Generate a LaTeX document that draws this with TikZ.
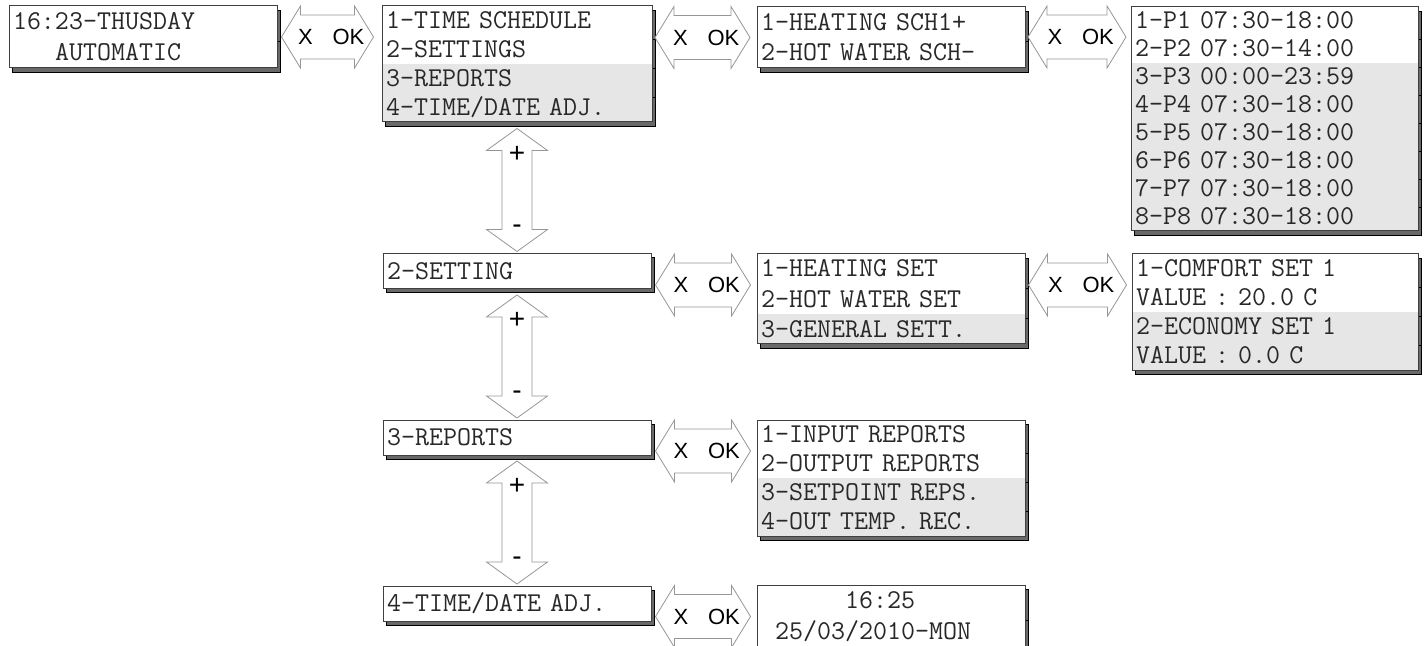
\documentclass[tikz,border=0pt]{standalone}
\usepackage{fontspec}
\newfontfamily\okfont{Liberation Sans}
\usetikzlibrary{shadows,calc}
\definecolor{lcdgray}{RGB}{230,230,230}
\definecolor{shadowgray}{RGB}{105,105,105}
\definecolor{okgray}{RGB}{150,150,150}
\definecolor{lcdtext}{RGB}{40,40,40}
\DeclareRobustCommand{\lcdfont}{\ttfamily\fontsize{13.6}{16}\selectfont
  \fontdimen2\font=0.525em\relax\fontdimen3\font=0pt\relax\fontdimen4\font=0pt\relax}

\tikzset{
  lcd/.style={anchor=north west, text width=#1, align=left, inner xsep=2pt, inner ysep=0pt,
    outer sep=0pt, text height=8pt, text depth=0pt, text=lcdtext, font=\lcdfont,
    drop shadow={shadow xshift=1.8pt, shadow yshift=-2pt, fill=shadowgray, draw=black, opacity=1}},
  lcd/.default=130pt,
  lcdframe/.style={draw=black!75, line width=0.5pt},
  okline/.style={draw=okgray, fill=white, line width=0.4pt},
  oklbl/.style={font=\okfont\fontsize{11}{13}\selectfont, inner sep=0pt},
  pmlbl/.style={font=\okfont\fontsize{14}{16}\selectfont, inner sep=0pt},
  pics/xok/.style={code={
    \draw[okline] (-#1,0) -- ({19-#1},-31) -- ({19-#1},-22) -- ({#1-19},-22) -- ({#1-19},-31)
      -- (#1,0) -- ({#1-19},31) -- ({#1-19},22) -- ({19-#1},22) -- ({19-#1},31) -- cycle;
    \node[oklbl] (-x) at (-22,0) {X};
    \node[oklbl] (-ok) at (21,0) {OK};
  }},
  pics/pm/.style={code={
    \draw[okline] (0,-61.5) -- (30.5,-39.5) -- (15,-39.5) -- (15,39.5) -- (30.5,39.5)
      -- (0,61.5) -- (-30.5,39.5) -- (-15,39.5) -- (-15,-39.5) -- (-30.5,-39.5) -- cycle;
    \node[pmlbl] (-plus) at (0,-36) {+};
    \node[pmlbl] (-minus) at (0,39) {-};
  }}
}

\begin{document}
\begin{tikzpicture}[x=0.5pt,y=-0.5pt]
  \useasboundingbox (0,0) rectangle (1428,646);
  % first column
  \foreach \c/\t [count=\i] in {white/16:23-THUSDAY, white/{\phantom{000}AUTOMATIC}}
    \node[lcd, fill=\c, minimum height=15.5pt] (home\i) at (9,{6+31*(\i-1)}) {\t};
  \draw[lcdframe] (home1.north west) rectangle (home2.south east);

  \foreach \c/\t [count=\i] in {white/1-TIME SCHEDULE, white/2-SETTINGS, lcdgray/3-REPORTS, lcdgray/{4-TIME/DATE ADJ.}}
    \node[lcd=131pt, fill=\c, minimum height=14.5pt] (menu\i) at (382,{6+29*(\i-1)}) {\t};
  \draw[lcdframe] (menu1.north west) rectangle (menu4.south east);

  \node[lcd, lcdframe, fill=white, minimum height=17.5pt] (set) at (383,254) {2-SETTING};
  \node[lcd, lcdframe, fill=white, minimum height=17.5pt] (rep) at (383,420) {3-REPORTS};
  \node[lcd, lcdframe, fill=white, minimum height=17.5pt] (tda) at (383,586) {4-TIME/DATE ADJ.};

  % submenus
  \foreach \c/\t [count=\i] in {white/1-HEATING SCH1+, white/2-HOT WATER SCH-}
    \node[lcd, fill=\c, minimum height=15.25pt] (sch\i) at (757,{7+30.5*(\i-1)}) {\t};
  \draw[lcdframe] (sch1.north west) rectangle (sch2.south east);

  \foreach \c/\t [count=\i] in {white/1-P1 07:30-18:00, white/2-P2 07:30-14:00, lcdgray/3-P3 00:00-23:59,
      lcdgray/4-P4 07:30-18:00, lcdgray/5-P5 07:30-18:00, lcdgray/6-P6 07:30-18:00,
      lcdgray/7-P7 07:30-18:00, lcdgray/8-P8 07:30-18:00}
    \node[lcd=139.5pt, fill=\c, minimum height=14pt] (per\i) at (1131,{7+28*(\i-1)}) {\t};
  \draw[lcdframe] (per1.north west) rectangle (per8.south east);

  \foreach \c/\t [count=\i] in {white/1-HEATING SET, white/2-HOT WATER SET, lcdgray/3-GENERAL SETT.}
    \node[lcd, fill=\c, minimum height=15pt] (hset\i) at (757,{254+30*(\i-1)}) {\t};
  \draw[lcdframe] (hset1.north west) rectangle (hset3.south east);

  \foreach \c/\t [count=\i] in {white/1-COMFORT SET 1, white/VALUE : 20.0 C, lcdgray/2-ECONOMY SET 1, lcdgray/VALUE : 0.0 C}
    \node[lcd=139pt, fill=\c, minimum height=14.5pt] (comf\i) at (1132,{254+29*(\i-1)}) {\t};
  \draw[lcdframe] (comf1.north west) rectangle (comf4.south east);

  \foreach \c/\t [count=\i] in {white/1-INPUT REPORTS, white/2-OUTPUT REPORTS, lcdgray/3-SETPOINT REPS., lcdgray/4-OUT TEMP. REC.}
    \node[lcd, fill=\c, minimum height=14.5pt] (inp\i) at (757,{420+29*(\i-1)}) {\t};
  \draw[lcdframe] (inp1.north west) rectangle (inp4.south east);

  \foreach \c/\t [count=\i] in {white/{\phantom{000000}16:25}, white/{\phantom{0}25/03/2010-MON}}
    \node[lcd, fill=\c, minimum height=15.5pt] (clk\i) at (757,{585+31*(\i-1)}) {\t};
  \draw[lcdframe] (clk1.north west) rectangle (clk2.south east);

  % X / OK arrows
  \pic (okA) at ($(home1.north east)!.5!(menu1.north west)+(-2,31)$) {xok=46};
  \pic (okB) at ($(menu1.north east)!.5!(sch1.north west)+(-2,31)$) {xok=47.5};
  \pic (okC) at ($(sch1.north east)!.5!(per1.north west)+(-1,30)$) {xok=49};
  \pic (okD) at ($(set.north east)!.5!(hset1.north west)+(-1,31)$) {xok=47.5};
  \pic (okE) at ($(hset1.north east)!.5!(comf1.north west)+(-1,31)$) {xok=49};
  \pic (okF) at ($(rep.north east)!.5!(inp1.north west)+(-1,31)$) {xok=47.5};
  \pic (okG) at ($(tda.north east)!.5!(clk1.north west)+(-1,31)$) {xok=47.5};

  % + / - arrows
  \pic (pmA) at ($(menu4.south)!.5!(set.north)+(0,2)$) {pm};
  \pic (pmB) at ($(set.south)!.5!(rep.north)+(0,2)$) {pm};
  \pic (pmC) at ($(rep.south)!.5!(tda.north)+(0,2)$) {pm};
\end{tikzpicture}
\end{document}
